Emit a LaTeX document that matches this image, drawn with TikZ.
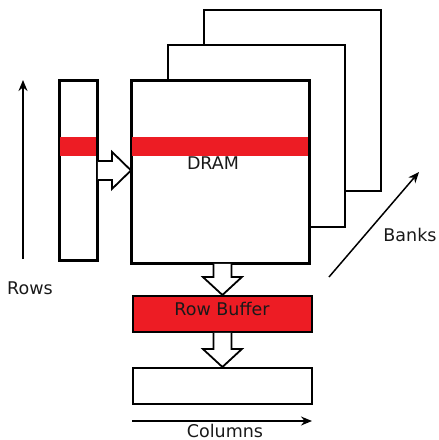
\documentclass[tikz,border=0pt]{standalone}
\usepackage{fontspec}
\setmainfont{DejaVu Sans}
\usetikzlibrary{calc,arrows.meta}
\definecolor{rowred}{RGB}{237,28,36}
\tikzset{
  box/.style={draw=black, line width=1.8pt, fill=white, inner sep=0pt, anchor=north west},
  stripe/.style={fill=rowred, draw=none},
  blk/.style={draw=black, line width=1.8pt, fill=white, line join=miter},
  axis/.style={line width=1.5pt, -{Stealth[length=11pt,width=9pt]}},
  lbl/.style={font=\fontsize{17.5}{20}\selectfont, inner sep=0pt, text=black!90}
}
\begin{document}
\begin{tikzpicture}[x=1pt,y=-1pt]
\useasboundingbox (0,0) rectangle (439,440);
% banks
\node[box, minimum width=177pt, minimum height=181pt] (bank3) at (203,9) {};
\node[box, minimum width=177pt, minimum height=182pt] (bank2) at (167,44) {};
\node[box, minimum width=177pt, minimum height=182pt] (dram) at (131,80) {};
\fill[stripe] (131,137) rectangle (308,156);
\draw[line width=1.8pt] (dram.north west) rectangle (dram.south east);
\node[lbl] (dramlbl) at (213,163.5) {DRAM};
% row column
\node[box, minimum width=37pt, minimum height=179pt] (col) at (59,80) {};
\fill[stripe] (59,137) rectangle (96,156);
\draw[line width=1.8pt] (col.north west) rectangle (col.south east);
% right block arrow
\coordinate (rtip) at (dram.west |- col.east);
\draw[blk] ($(col.east)+(0,-9.5)$) -- ($(rtip)+(-19,-9.5)$) -- ($(rtip)+(-19,-18.5)$) -- (rtip)
  -- ($(rtip)+(-19,18.5)$) -- ($(rtip)+(-19,9.5)$) -- ($(col.east)+(0,9.5)$);
% row buffer and column box
\node[box, fill=rowred, minimum width=179pt, minimum height=36pt] (rowbuf) at (132,295) {};
\node[lbl] (rblbl) at (222,309) {Row Buffer};
\node[box, minimum width=179pt, minimum height=36pt] (colbuf) at (132,367) {};
% down block arrows
\coordinate (d1s) at (rowbuf.north |- dram.south);
\draw[blk] ($(d1s)+(-9,0)$) -- ($(rowbuf.north)+(-9,-18)$) -- ($(rowbuf.north)+(-19.5,-18)$) -- (rowbuf.north)
  -- ($(rowbuf.north)+(19.5,-18)$) -- ($(rowbuf.north)+(9,-18)$) -- ($(d1s)+(9,0)$);
\draw[blk] ($(rowbuf.south)+(-9,0)$) -- ($(colbuf.north)+(-9,-18)$) -- ($(colbuf.north)+(-19.5,-18)$) -- (colbuf.north)
  -- ($(colbuf.north)+(19.5,-18)$) -- ($(colbuf.north)+(9,-18)$) -- ($(rowbuf.south)+(9,0)$);
% axes
\coordinate (rowsA) at (23,259);
\coordinate (rowsB) at (23,80);
\draw[axis] (rowsA) -- (rowsB);
\node[lbl] (rowslbl) at (30,288) {Rows};
\coordinate (colsA) at (132,421);
\coordinate (colsB) at (312,421);
\draw[axis] (colsA) -- (colsB);
\node[lbl] (colslbl) at (225,430.5) {Columns};
\coordinate (banksA) at (329,277);
\coordinate (banksB) at (419,172);
\draw[axis] (banksA) -- (banksB);
\node[lbl] (bankslbl) at (410,235) {Banks};
\end{tikzpicture}
\end{document}
